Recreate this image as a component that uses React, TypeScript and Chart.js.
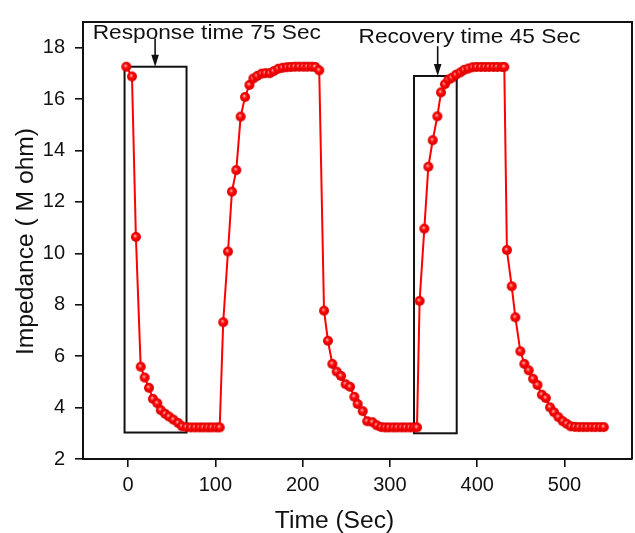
import React, { useEffect, useRef } from "react";
import { Chart, registerables } from "chart.js";

Chart.register(...registerables);

// ---- data ----
const timeSec = [
  -2, 4.5, 9, 14.5, 19, 24, 28.5, 33.5, 37.5, 42.5, 47, 52, 57.5, 62, 67, 72, 77, 82, 86.5, 91.5, 96, 101, 105,
  109, 114.5, 119, 124, 129, 134, 139, 143.5, 148, 153, 157.5, 162.5, 167, 172, 177, 182, 186.5, 191, 196, 201, 205.5, 210.5, 214.5, 219,
  224.5, 229, 234, 239, 244, 249.3, 254.3, 259.2, 263, 268.8, 274, 280, 285, 290, 294.6, 299, 304, 308.5, 313.5, 318, 323, 327.6, 331,
  334, 339.4, 344, 349, 354.3, 358.5, 363, 367, 371, 375.7, 380.7, 385, 389.8, 394.8, 399.4, 404.3, 409, 413.5, 418.5, 423, 428, 431,
  434, 439.5, 443.7, 449.4, 454, 459, 464, 469, 474, 478.6, 483.4, 488, 493, 498, 502.5, 507, 512, 516.6, 521.5, 526, 531, 535.5, 540.5, 545,
];
const impedance = [
  17.26, 16.88, 10.64, 5.59, 5.17, 4.77, 4.34, 4.17, 3.9, 3.76, 3.65, 3.53, 3.4, 3.27, 3.24, 3.23, 3.23, 3.23, 3.23, 3.23, 3.23, 3.23, 3.23,
  7.32, 10.07, 12.4, 13.24, 15.32, 16.08, 16.55, 16.8, 16.9, 16.99, 17.01, 17.01, 17.09, 17.18, 17.22, 17.24, 17.25, 17.26, 17.26, 17.26, 17.26, 17.26, 17.25, 17.12,
  7.77, 6.6, 5.7, 5.4, 5.23, 4.91, 4.81, 4.42, 4.14, 3.86, 3.47, 3.43, 3.31, 3.24, 3.23, 3.23, 3.23, 3.23, 3.23, 3.23, 3.23, 3.23, 3.23,
  8.15, 10.96, 13.37, 14.4, 15.33, 16.26, 16.58, 16.76, 16.83, 16.95, 17.04, 17.14, 17.19, 17.24, 17.25, 17.25, 17.25, 17.25, 17.25, 17.25, 17.25, 17.25,
  10.13, 8.72, 7.51, 6.19, 5.7, 5.45, 5.12, 4.88, 4.5, 4.37, 4.01, 3.82, 3.63, 3.47, 3.37, 3.27, 3.25, 3.24, 3.24, 3.24, 3.24, 3.24, 3.24, 3.24,
];
const xTickValues = [0, 100, 200, 300, 400, 500];
const yTickValues = [2, 4, 6, 8, 10, 12, 14, 16, 18];
const xRange = [-51.6, 577.3];
const yRange = [2, 19];

// annotations (in data units)
const responseBoxX = [-4, 67];
const responseBoxY = [3.03, 17.26];
const recoveryBoxX = [327.6, 376.5];
const recoveryBoxY = [3.0, 16.9];
const responseArrowX = 31;
const responseArrowY = [18.36, 17.26];
const recoveryArrowX = 354.7;
const recoveryArrowY = [18.06, 16.9];
const responseLabel = "Response time 75 Sec";
const recoveryLabel = "Recovery time 45 Sec";
const responseLabelPos = [-40.5, 18.35];
const recoveryLabelPos = [264, 18.19];
const xTitle = "Time (Sec)";
const yTitle = "Impedance ( M ohm)";

const FONT = "'Liberation Sans', Arial, sans-serif";

function makeSphere(r: number): HTMLCanvasElement {
  const s = Math.ceil(r * 2 + 2);
  const c = document.createElement("canvas");
  c.width = s;
  c.height = s;
  const g = c.getContext("2d")!;
  const cx = s / 2;
  const cy = s / 2;
  const grad = g.createRadialGradient(cx - r * 0.2, cy - r * 0.25, 0, cx, cy, r);
  grad.addColorStop(0, "#ffe8e8");
  grad.addColorStop(0.22, "#ff5a5a");
  grad.addColorStop(0.5, "#ff0000");
  grad.addColorStop(1, "#d40000");
  g.fillStyle = grad;
  g.beginPath();
  g.arc(cx, cy, r, 0, Math.PI * 2);
  g.fill();
  return c;
}

function drawStretchedText(
  ctx: CanvasRenderingContext2D,
  text: string,
  x: number,
  y: number,
  size: number,
  stretch: number,
  rotate: number,
  align: CanvasTextAlign
) {
  ctx.save();
  ctx.translate(x, y);
  ctx.rotate(rotate);
  ctx.scale(stretch, 1);
  ctx.font = `${size}px ${FONT}`;
  ctx.fillStyle = "#111";
  ctx.textAlign = align;
  ctx.textBaseline = "alphabetic";
  ctx.fillText(text, 0, 0);
  ctx.restore();
}

const boxesPlugin = {
  id: "boxes",
  beforeDatasetsDraw(chart: any) {
    const { ctx, scales } = chart;
    const x = scales.x;
    const y = scales.y;
    ctx.save();
    ctx.strokeStyle = "#111";
    ctx.lineWidth = 2;
    const boxes = [
      [responseBoxX, responseBoxY],
      [recoveryBoxX, recoveryBoxY],
    ];
    for (const [bx, by] of boxes) {
      const x0 = x.getPixelForValue(bx[0]);
      const x1 = x.getPixelForValue(bx[1]);
      const y0 = y.getPixelForValue(by[1]);
      const y1 = y.getPixelForValue(by[0]);
      ctx.strokeRect(x0, y0, x1 - x0, y1 - y0);
    }
    ctx.restore();
  },
  afterDraw(chart: any) {
    const { ctx, scales, chartArea } = chart;
    const x = scales.x;
    const y = scales.y;
    ctx.save();
    // frame top and right
    ctx.strokeStyle = "#111";
    ctx.lineWidth = 2;
    ctx.beginPath();
    ctx.moveTo(chartArea.left, chartArea.top);
    ctx.lineTo(chartArea.right, chartArea.top);
    ctx.lineTo(chartArea.right, chartArea.bottom);
    ctx.stroke();

    // arrows
    const arrows: [number, number[]][] = [
      [responseArrowX, responseArrowY],
      [recoveryArrowX, recoveryArrowY],
    ];
    ctx.fillStyle = "#111";
    ctx.lineWidth = 1.6;
    for (const [ax, ay] of arrows) {
      const px = x.getPixelForValue(ax);
      const py0 = y.getPixelForValue(ay[0]);
      const py1 = y.getPixelForValue(ay[1]);
      ctx.beginPath();
      ctx.moveTo(px, py0);
      ctx.lineTo(px, py1 - 8);
      ctx.stroke();
      ctx.beginPath();
      ctx.moveTo(px - 3.8, py1 - 12);
      ctx.lineTo(px + 3.8, py1 - 12);
      ctx.lineTo(px, py1);
      ctx.closePath();
      ctx.fill();
    }

    // labels
    drawStretchedText(
      ctx,
      responseLabel,
      x.getPixelForValue(responseLabelPos[0]),
      y.getPixelForValue(responseLabelPos[1]),
      21,
      1.08,
      0,
      "left"
    );
    drawStretchedText(
      ctx,
      recoveryLabel,
      x.getPixelForValue(recoveryLabelPos[0]),
      y.getPixelForValue(recoveryLabelPos[1]),
      21,
      1.08,
      0,
      "left"
    );

    // axis titles
    drawStretchedText(
      ctx,
      xTitle,
      (chartArea.left + chartArea.right) / 2 - 23,
      chartArea.bottom + 69,
      23,
      1.07,
      0,
      "center"
    );
    drawStretchedText(
      ctx,
      yTitle,
      chartArea.left - 50,
      (chartArea.top + chartArea.bottom) / 2 + 1,
      23,
      1.07,
      -Math.PI / 2,
      "center"
    );
    ctx.restore();
  },
};

export default function App() {
  const canvasRef = useRef<HTMLCanvasElement | null>(null);

  useEffect(() => {
    const canvas = canvasRef.current;
    if (!canvas) return;
    const sphere = makeSphere(5);
    const points = timeSec.map((t, i) => ({ x: t, y: impedance[i] }));

    const chart = new Chart(canvas, {
      type: "line",
      data: {
        datasets: [
          {
            data: points,
            borderColor: "#ff0000",
            borderWidth: 2,
            pointStyle: sphere as any,
            pointRadius: 5,
            pointHoverRadius: 5,
            tension: 0,
            fill: false,
          },
        ],
      },
      options: {
        animation: false,
        responsive: false,
        events: [],
        layout: { autoPadding: false, padding: { top: 16, right: 3, left: 0, bottom: 0 } },
        plugins: {
          legend: { display: false },
          tooltip: { enabled: false },
          title: { display: false },
        },
        scales: {
          x: {
            type: "linear",
            min: xRange[0],
            max: xRange[1],
            afterBuildTicks: (scale: any) => {
              scale.ticks = xTickValues.map((v) => ({ value: v }));
            },
            afterFit: (scale: any) => {
              scale.height = 74;
            },
            grid: {
              drawOnChartArea: false,
              drawTicks: true,
              tickLength: 8,
              color: "#111",
              lineWidth: 1.6,
            },
            border: { display: true, color: "#111", width: 2 },
            ticks: {
              color: "#111",
              padding: 6,
              maxRotation: 0,
              autoSkip: false,
              font: { family: FONT, size: 20 },
              callback: (v: any) => String(v),
            },
          },
          y: {
            type: "linear",
            min: yRange[0],
            max: yRange[1],
            afterBuildTicks: (scale: any) => {
              scale.ticks = yTickValues.map((v) => ({ value: v }));
            },
            afterFit: (scale: any) => {
              scale.width = 83;
            },
            grid: {
              drawOnChartArea: false,
              drawTicks: true,
              tickLength: 8,
              color: "#111",
              lineWidth: 1.6,
            },
            border: { display: true, color: "#111", width: 2 },
            ticks: {
              color: "#111",
              padding: 10,
              autoSkip: false,
              font: { family: FONT, size: 20 },
              callback: (v: any) => String(v),
            },
          },
        },
      },
      plugins: [boxesPlugin],
    });

    return () => {
      chart.destroy();
    };
  }, []);

  return (
    <div style={{ position: "fixed", left: 0, top: 0, width: 635, height: 533, background: "#fff" }}>
      <canvas ref={canvasRef} width={635} height={533} style={{ display: "block" }} />
    </div>
  );
}
